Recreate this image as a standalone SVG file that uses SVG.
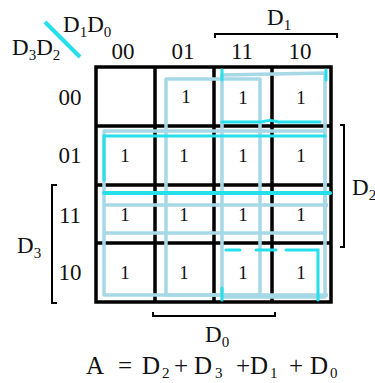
<svg xmlns="http://www.w3.org/2000/svg" width="375" height="383" viewBox="0 0 375 383">
<style>
text{font-family:"Liberation Serif","Times New Roman",serif;fill:#111}
.lbl{font-size:23px}
.one{font-size:19px;text-anchor:middle}
.sub{font-size:15px}
.grid{fill:none;stroke:#000;stroke-width:3.5}
.br{fill:none;stroke:#000;stroke-width:2}
.lb{fill:none;stroke:#a6d8e6;stroke-width:3.5;stroke-linejoin:round}
.cy{fill:none;stroke:#25e0ea;stroke-width:3;stroke-linecap:round}
</style>
<rect width="375" height="383" fill="#fff"/>

<g id="labels">
  <line x1="45" y1="22" x2="80" y2="57" stroke="#25e0ea" stroke-width="4"/>
  <text class="lbl" x="63" y="32">D<tspan class="sub" dy="5">1</tspan><tspan dy="-5">D</tspan><tspan class="sub" dy="5">0</tspan></text>
  <text class="lbl" x="12" y="55">D<tspan class="sub" dy="5">3</tspan><tspan dy="-5">D</tspan><tspan class="sub" dy="5">2</tspan></text>
  <text class="lbl" x="123" y="59" text-anchor="middle">00</text>
  <text class="lbl" x="183" y="59" text-anchor="middle">01</text>
  <text class="lbl" x="242" y="59" text-anchor="middle">11</text>
  <text class="lbl" x="300" y="59" text-anchor="middle">10</text>
  <text class="lbl" x="70" y="105" text-anchor="middle">00</text>
  <text class="lbl" x="70" y="163" text-anchor="middle">01</text>
  <text class="lbl" x="70" y="223" text-anchor="middle">11</text>
  <text class="lbl" x="70" y="280" text-anchor="middle">10</text>
  <text class="lbl" x="267" y="25">D<tspan class="sub" dy="5">1</tspan></text>
  <text class="lbl" x="17" y="253">D<tspan class="sub" dy="5">3</tspan></text>
  <text class="lbl" x="352" y="195">D<tspan class="sub" dy="5">2</tspan></text>
  <text class="lbl" x="205" y="342">D<tspan class="sub" dy="5">0</tspan></text>
  <text class="lbl" style="font-size:25px" y="374"><tspan x="86">A</tspan><tspan x="118">=</tspan><tspan x="142">D</tspan><tspan class="sub" x="162" dy="4">2</tspan><tspan x="174" dy="-4">+</tspan><tspan x="194">D</tspan><tspan class="sub" x="215" dy="4">3</tspan><tspan x="236" dy="-4">+</tspan><tspan x="250">D</tspan><tspan class="sub" x="270" dy="4">1</tspan><tspan x="289" dy="-4">+</tspan><tspan x="310">D</tspan><tspan class="sub" x="330" dy="4">0</tspan></text>
</g>

<g id="brackets">
  <path class="br" d="M215 38 V34 H337 V38"/>
  <path class="br" d="M57 185 H52 V303 H57"/>
  <path class="br" d="M340 125 H344 V247 H340"/>
  <path class="br" d="M153 312 V316 H275 V312"/>
</g>

<g id="kmap-grid">
  <rect class="grid" x="96" y="67" width="235" height="235"/>
  <path class="grid" d="M155 67 V302 M214 67 V302 M272 67 V302 M96 126 H331 M96 185 H331 M96 243 H331"/>
</g>

<g id="cells">
  <text class="one" x="186" y="103">1</text>
  <text class="one" x="243" y="104">1</text>
  <text class="one" x="301" y="104">1</text>
  <text class="one" x="125" y="162">1</text>
  <text class="one" x="184" y="162">1</text>
  <text class="one" x="243" y="162">1</text>
  <text class="one" x="301" y="162">1</text>
  <text class="one" x="125" y="221">1</text>
  <text class="one" x="184" y="221">1</text>
  <text class="one" x="243" y="221">1</text>
  <text class="one" x="301" y="221">1</text>
  <text class="one" x="125" y="279">1</text>
  <text class="one" x="184" y="279">1</text>
  <text class="one" x="243" y="279">1</text>
  <text class="one" x="301" y="279">1</text>
</g>

<g id="connectors">
  <path class="lb" d="M222 75 L325 73 L325 297 L222 297 Z"/>
  <path class="lb" d="M166 79 H260 V295 H166 Z"/>
  <path class="lb" d="M104 131 H325 V233 H104 Z"/>
  <path class="lb" d="M104 205 H328 M104 233 V295 H328"/>
  <path class="cy" d="M104 136 H325 M104 136 V180"/>
  <path class="cy" d="M104 193 H330" style="stroke-width:4"/>
  <path class="cy" d="M222 70 V80 M326 70 V80"/>
  <path class="cy" d="M222 122 H262 Q270 119 278 122 H320"/>
  <path class="cy" d="M226 250 H240 M256 250 H276 M286 250 H318 V300 M222 288 V300"/>
</g>
</svg>
